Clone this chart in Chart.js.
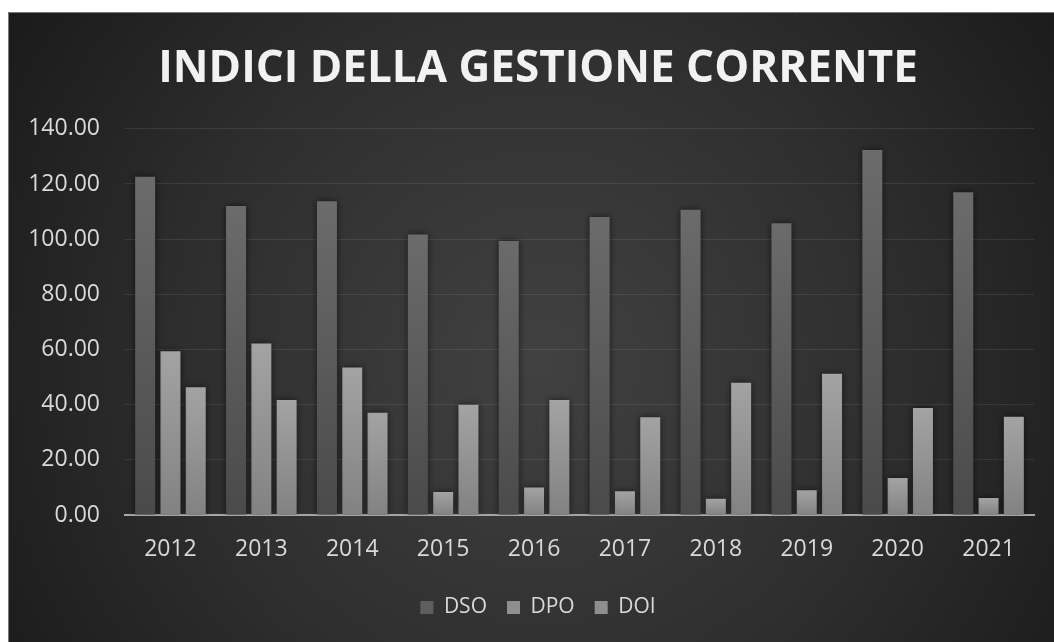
<!DOCTYPE html>
<html>
<head>
<meta charset="utf-8">
<title>Indici della gestione corrente</title>
<script src="https://cdn.jsdelivr.net/npm/chart.js@4.4.1/dist/chart.umd.min.js"></script>
<style>
  html, body { margin: 0; padding: 0; background: #ffffff; }
  #wrap { position: relative; width: 1054px; height: 642px; }
  canvas { display: block; }
</style>
</head>
<body>
<div id="wrap"><canvas id="chart" width="1054" height="642"></canvas></div>
<script>
// Years on the category axis
const years = ['2012', '2013', '2014', '2015', '2016', '2017', '2018', '2019', '2020', '2021'];

// Days sales outstanding
const dso = [122.6, 112.0, 113.7, 101.7, 99.3, 108.0, 110.7, 105.8, 132.3, 117.0];
// Days payable outstanding
const dpo = [59.4, 62.2, 53.5, 8.3, 10.0, 8.6, 5.9, 9.0, 13.4, 6.2];
// Days inventory outstanding
const doi = [46.3, 41.7, 37.1, 40.0, 41.7, 35.4, 47.9, 51.2, 38.8, 35.6];

// Value axis ticks
const yTicks = [0, 20, 40, 60, 80, 100, 120, 140];

const FONT = "'Open Sans', 'DejaVu Sans', sans-serif";
const TEXT = '#d9d9d9';

// Vertical gradient per bar, from its top down to the baseline
function barFill(top, bottom) {
  return (c) => {
    const chart = c.chart;
    const area = chart.chartArea;
    if (!area || c.type !== 'data') return bottom;
    const y = chart.scales.y;
    const y0 = y.getPixelForValue(0);
    const y1 = y.getPixelForValue(c.raw);
    if (!isFinite(y0) || !isFinite(y1) || y0 === y1) return bottom;
    const g = chart.ctx.createLinearGradient(0, y1, 0, y0);
    g.addColorStop(0, top);
    g.addColorStop(1, bottom);
    return g;
  };
}

// Dark radial backdrop with a thin frame on the top and left
const backdrop = {
  id: 'backdrop',
  beforeDraw(chart) {
    const ctx = chart.ctx;
    const W = chart.width, H = chart.height;
    ctx.save();
    ctx.fillStyle = '#ffffff';
    ctx.fillRect(0, 0, W, H);
    const g = ctx.createRadialGradient(540, 360, 0, 540, 360, 640);
    g.addColorStop(0, '#414141');
    g.addColorStop(0.55, '#2e2e2e');
    g.addColorStop(1, '#1a1a1a');
    ctx.fillStyle = g;
    ctx.fillRect(8, 12, W - 8, H - 12);
    ctx.strokeStyle = '#7a7a7a';
    ctx.lineWidth = 1;
    ctx.beginPath();
    ctx.moveTo(8.5, H);
    ctx.lineTo(8.5, 12.5);
    ctx.lineTo(W, 12.5);
    ctx.stroke();
    ctx.restore();
  }
};

// Soft shadow round the bars
const barShadow = {
  id: 'barShadow',
  beforeDatasetsDraw(chart) {
    const ctx = chart.ctx;
    ctx.save();
    ctx.shadowColor = 'rgba(0,0,0,0.6)';
    ctx.shadowBlur = 7;
    ctx.shadowOffsetX = 0;
    ctx.shadowOffsetY = 0;
  },
  afterDatasetsDraw(chart) {
    chart.ctx.restore();
  }
};

const legendColors = ['#5e5e5e', '#8f8f8f', '#8f8f8f'];

new Chart(document.getElementById('chart'), {
  type: 'bar',
  data: {
    labels: years,
    datasets: [
      { label: 'DSO', data: dso, backgroundColor: barFill('#6b6b6b', '#4a4a4a') },
      { label: 'DPO', data: dpo, backgroundColor: barFill('#a3a3a3', '#828282') },
      { label: 'DOI', data: doi, backgroundColor: barFill('#a3a3a3', '#828282') }
    ]
  },
  options: {
    responsive: false,
    animation: false,
    devicePixelRatio: 1,
    datasets: {
      bar: { categoryPercentage: 0.835, barPercentage: 0.79, borderWidth: 0 }
    },
    layout: { padding: { left: 30, right: 8, top: 12, bottom: 14 } },
    plugins: {
      title: {
        display: true,
        text: 'INDICI DELLA GESTIONE CORRENTE',
        color: '#f2f2f2',
        font: { family: FONT, size: 44, weight: 'bold' },
        padding: { top: 31, bottom: 33 }
      },
      legend: {
        position: 'bottom',
        labels: {
          color: TEXT,
          font: { family: FONT, size: 21 },
          boxWidth: 13,
          boxHeight: 13,
          padding: 20,
          generateLabels(chart) {
            return chart.data.datasets.map((ds, i) => ({
              text: ds.label,
              fillStyle: legendColors[i],
              strokeStyle: legendColors[i],
              lineWidth: 0,
              fontColor: TEXT,
              hidden: false,
              datasetIndex: i
            }));
          }
        }
      },
      tooltip: { enabled: false }
    },
    scales: {
      x: {
        grid: { display: false, drawTicks: false },
        border: { display: true, color: '#a6a6a6', width: 2 },
        ticks: { color: TEXT, font: { family: FONT, size: 23 }, padding: 21 },
        afterFit(s) { s.height = 62; }
      },
      y: {
        min: 0,
        max: 140,
        afterBuildTicks(s) { s.ticks = yTicks.map(v => ({ value: v })); },
        grid: { color: 'rgba(255,255,255,0.09)', lineWidth: 1, drawTicks: false },
        border: { display: false },
        ticks: {
          color: TEXT,
          font: { family: FONT, size: 23 },
          padding: 25,
          callback: (v) => Number(v).toFixed(2)
        },
        afterFit(s) { s.width = 95; }
      },
      yRight: {
        position: 'right',
        display: true,
        grid: { display: false, drawTicks: false },
        border: { display: false },
        ticks: { display: false },
        afterFit(s) { s.width = 12; }
      }
    }
  },
  plugins: [backdrop, barShadow]
});
</script>
</body>
</html>
